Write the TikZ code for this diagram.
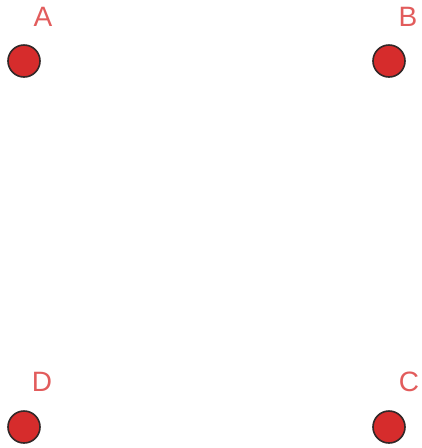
\documentclass[tikz,border=0pt]{standalone}
\usepackage{fontspec}
\setmainfont{Liberation Sans}
\definecolor{dotred}{RGB}{214,44,44}
\definecolor{dotline}{RGB}{50,40,40}
\definecolor{labred}{RGB}{226,92,92}
\begin{document}
\begin{tikzpicture}[x=1pt,y=-1pt,
  dot/.style={circle,fill=dotred,draw=dotline,line width=1.6pt,minimum size=32pt,inner sep=0pt},
  lab/.style={text=labred,font=\fontsize{28}{32}\selectfont,inner sep=0pt}]
\useasboundingbox (0,0) rectangle (422,448);
\node[dot] (A) at (24,61) {};
\node[dot] (B) at (389,61) {};
\node[dot] (D) at (24,427) {};
\node[dot] (C) at (389,427) {};
\node[lab] (lA) at (43,17) {A};
\node[lab] (lB) at (408,17) {B};
\node[lab] (lD) at (42,382) {D};
\node[lab] (lC) at (409,382) {C};
\end{tikzpicture}
\end{document}
